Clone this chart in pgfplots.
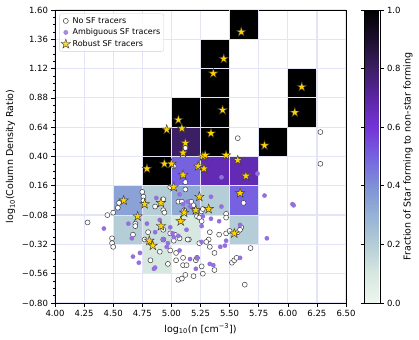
\documentclass[border=0pt]{standalone}
\usepackage{pgfplots}
\pgfplotsset{compat=1.18}
\usepackage{fontspec}
\setmainfont{DejaVu Sans}

\definecolor{gridc}{RGB}{228,228,248}
\definecolor{ambig}{RGB}{147,112,219}
\definecolor{starc}{RGB}{255,210,0}
\definecolor{opene}{RGB}{60,60,60}

% filled five-pointed star, like matplotlib's '*'
\pgfdeclareplotmark{fstar}{%
  \pgfpathmoveto{\pgfpointpolar{90}{\pgfplotmarksize}}%
  \pgfpathlineto{\pgfpointpolar{126}{0.382\pgfplotmarksize}}%
  \pgfpathlineto{\pgfpointpolar{162}{\pgfplotmarksize}}%
  \pgfpathlineto{\pgfpointpolar{198}{0.382\pgfplotmarksize}}%
  \pgfpathlineto{\pgfpointpolar{234}{\pgfplotmarksize}}%
  \pgfpathlineto{\pgfpointpolar{270}{0.382\pgfplotmarksize}}%
  \pgfpathlineto{\pgfpointpolar{306}{\pgfplotmarksize}}%
  \pgfpathlineto{\pgfpointpolar{342}{0.382\pgfplotmarksize}}%
  \pgfpathlineto{\pgfpointpolar{18}{\pgfplotmarksize}}%
  \pgfpathlineto{\pgfpointpolar{54}{0.382\pgfplotmarksize}}%
  \pgfpathclose
  \pgfusepathqfillstroke
}

\begin{document}
\begin{tikzpicture}
\begin{axis}[
    name=main,
    scale only axis,
    width=291pt, height=293pt,
    xmin=4, xmax=6.5,
    ymin=-0.8, ymax=1.6,
    xtick={4,4.25,4.5,4.75,5,5.25,5.5,5.75,6,6.25,6.5},
    xticklabels={4.00,4.25,4.50,4.75,5.00,5.25,5.50,5.75,6.00,6.25,6.50},
    ytick={-0.8,-0.56,-0.32,-0.08,0.16,0.4,0.64,0.88,1.12,1.36,1.6},
    yticklabels={−0.80,−0.56,−0.32,−0.08,0.16,0.40,0.64,0.88,1.12,1.36,1.60},
    minor y tick num=3,
    grid=major,
    major grid style={gridc, line width=1.2pt},
    tick align=outside, tick pos=left,
    major tick length=3.5pt, minor tick length=2pt,
    every tick/.style={black, line width=0.6pt},
    axis line style={line width=0.6pt},
    ticklabel style={font=\fontsize{8.5}{10}\selectfont},
    label style={font=\fontsize{9.5}{11}\selectfont},
    xlabel={log\textsubscript{10}(n [cm\textsuperscript{−3}])},
    ylabel={log\textsubscript{10}(Column Density Ratio)},
    colormap={sf}{rgb255=(238,246,240) rgb255=(214,232,224) rgb255=(180,205,214)
        rgb255=(150,178,213) rgb255=(126,145,214) rgb255=(118,98,224)
        rgb255=(116,52,214) rgb255=(92,38,164) rgb255=(60,30,100)
        rgb255=(28,15,45) rgb255=(0,0,0)},
    point meta min=0, point meta max=1,
    colorbar,
    colorbar style={
        width=16pt,
        at={(parent axis.north east)}, anchor=north west, xshift=9.5pt,
        ytick={0,0.2,0.4,0.6,0.8,1},
        yticklabels={0.0,0.2,0.4,0.6,0.8,1.0},
        yticklabel pos=right,
        tick align=outside, major tick length=3.5pt,
        every tick/.style={black, line width=0.6pt},
        axis line style={line width=0.6pt},
        ticklabel style={font=\fontsize{8.5}{10}\selectfont},
        ylabel={Fraction of Star forming to non-star forming},
        every axis y label/.style={at={(axis description cs:2.75,0.5)},
            anchor=center, rotate=90, font=\fontsize{9.5}{11}\selectfont},
    },
    legend style={at={(0.015,0.988)}, anchor=north west,
        font=\fontsize{8}{9.5}\selectfont, draw=black!18, rounded corners=2pt,
        fill=white, fill opacity=0.8, text opacity=1, inner sep=1.5pt},
    legend cell align=left,
]

% fraction per (n, column density) bin
\addplot[patch, patch type=rectangle, shader=faceted, faceted color=gridc,
    line width=1pt, point meta=explicit, forget plot] table[meta=c] {
x y c
5.50 1.36 1
5.75 1.36 1
5.75 1.60 1
5.50 1.60 1
5.25 1.12 1
5.50 1.12 1
5.50 1.36 1
5.25 1.36 1
5.25 0.88 1
5.50 0.88 1
5.50 1.12 1
5.25 1.12 1
6.00 0.88 1
6.25 0.88 1
6.25 1.12 1
6.00 1.12 1
5.00 0.64 1
5.25 0.64 1
5.25 0.88 1
5.00 0.88 1
5.25 0.64 1
5.50 0.64 1
5.50 0.88 1
5.25 0.88 1
6.00 0.64 1
6.25 0.64 1
6.25 0.88 1
6.00 0.88 1
4.75 0.40 1
5.00 0.40 1
5.00 0.64 1
4.75 0.64 1
5.00 0.40 0.8
5.25 0.40 0.8
5.25 0.64 0.8
5.00 0.64 0.8
5.25 0.40 1
5.50 0.40 1
5.50 0.64 1
5.25 0.64 1
5.75 0.40 1
6.00 0.40 1
6.00 0.64 1
5.75 0.64 1
4.75 0.16 1
5.00 0.16 1
5.00 0.40 1
4.75 0.40 1
5.00 0.16 0.5
5.25 0.16 0.5
5.25 0.40 0.5
5.00 0.40 0.5
5.25 0.16 0.67
5.50 0.16 0.67
5.50 0.40 0.67
5.25 0.40 0.67
5.50 0.16 0.67
5.75 0.16 0.67
5.75 0.40 0.67
5.50 0.40 0.67
4.50 -0.08 0.35
4.75 -0.08 0.35
4.75 0.16 0.35
4.50 0.16 0.35
4.75 -0.08 0.2
5.00 -0.08 0.2
5.00 0.16 0.2
4.75 0.16 0.2
5.00 -0.08 0.32
5.25 -0.08 0.32
5.25 0.16 0.32
5.00 0.16 0.32
5.25 -0.08 0.2
5.50 -0.08 0.2
5.50 0.16 0.2
5.25 0.16 0.2
5.50 -0.08 0.5
5.75 -0.08 0.5
5.75 0.16 0.5
5.50 0.16 0.5
4.50 -0.32 0.2
4.75 -0.32 0.2
4.75 -0.08 0.2
4.50 -0.08 0.2
4.75 -0.32 0.14
5.00 -0.32 0.14
5.00 -0.08 0.14
4.75 -0.08 0.14
5.00 -0.32 0.1
5.25 -0.32 0.1
5.25 -0.08 0.1
5.00 -0.08 0.1
5.50 -0.32 0.2
5.75 -0.32 0.2
5.75 -0.08 0.2
5.50 -0.08 0.2
4.75 -0.56 0.1
5.00 -0.56 0.1
5.00 -0.32 0.1
4.75 -0.32 0.1
};

% No SF tracers
\addplot[only marks, mark=*, mark size=2.5pt,
    mark options={fill=white, draw=opene, line width=0.5pt}] coordinates {
(6.28,0.60) (6.28,0.34) (5.57,0.55) (5.12,0.47) (5.02,0.32) (5.12,0.19) (5.62,0.02)
(4.28,-0.14) (4.45,-0.08) (4.50,-0.06) (4.54,-0.02) (4.55,0.02)
(4.49,-0.27) (4.49,-0.31) (4.50,-0.34)
(4.69,-0.15) (4.69,-0.17) (4.67,-0.24)
(4.75,0.11) (4.76,0.07) (4.76,0.04)
(4.99,0.15) (5.12,0.13) (4.93,0.05) (4.86,-0.01) (4.93,-0.04) (4.94,-0.06)
(5.06,0.03) (5.09,0.03) (5.17,0.03) (5.19,0.00) (5.11,-0.04) (5.20,-0.04)
(4.77,-0.28) (4.80,-0.22) (4.93,-0.20) (4.99,-0.23) (5.03,-0.24)
(4.93,-0.28) (5.02,-0.29) (5.07,-0.27) (5.15,-0.28) (5.14,-0.28)
(4.90,-0.38) (4.99,-0.37) (5.04,-0.39) (4.82,-0.45) (4.97,-0.48)
(5.04,-0.45) (5.10,-0.43) (5.10,-0.49) (5.13,-0.49) (5.21,-0.45) (5.22,-0.43)
(5.06,-0.61) (5.09,-0.60) (5.12,-0.57) (5.19,-0.58) (5.27,-0.56)
(5.47,-0.07) (5.47,-0.10) (5.26,-0.05) (5.27,-0.03) (5.22,-0.09) (5.24,-0.10) (5.26,-0.13)
(5.33,-0.22) (5.41,-0.24) (5.32,-0.28) (5.30,-0.30) (5.24,-0.31)
(5.33,-0.34) (5.37,-0.39) (5.26,-0.50) (5.37,-0.53) (5.47,-0.23)
(5.50,-0.21) (5.60,-0.18) (5.57,-0.22) (5.59,-0.20)
(5.52,-0.47) (5.54,-0.45) (5.56,-0.43) (5.68,-0.35) (5.63,-0.65)
};
\addlegendentry{No SF tracers}

% Ambiguous SF tracers
\addplot[only marks, mark=*, mark size=2.1pt,
    mark options={fill=ambig, draw=ambig}] coordinates {
(5.43,0.23) (5.74,0.26) (5.80,0.08) (6.04,0.01) (6.05,0.00) (5.82,-0.27) (5.59,-0.43)
(5.34,0.07) (5.43,-0.01) (5.27,-0.09) (5.34,-0.11) (5.41,-0.13) (5.26,-0.17) (5.59,-0.16)
(5.47,-0.29) (5.42,-0.34) (5.46,-0.33) (5.26,-0.30) (5.33,-0.48) (5.36,-0.49)
(5.22,-0.43) (5.21,-0.52)
(5.07,0.09) (4.87,0.06) (5.14,0.03) (5.10,0.01) (5.16,-0.01)
(4.79,-0.15) (4.90,-0.12) (4.86,-0.22) (4.66,-0.27) (4.99,-0.18) (5.02,-0.26)
(4.93,-0.28) (4.97,-0.31) (5.01,-0.23) (5.06,-0.25) (5.13,-0.20)
(4.96,-0.34) (4.73,-0.39) (4.67,-0.42) (4.72,-0.47)
(4.86,-0.51) (4.85,-0.52) (5.07,-0.37) (5.16,-0.44)
(4.42,-0.19) (4.63,-0.15)
};
\addlegendentry{Ambiguous SF tracers}

% Robust SF tracers
\addplot[only marks, mark=fstar, mark size=5pt,
    mark options={fill=starc, draw=black!80, line width=0.4pt}] coordinates {
(5.60,1.42) (5.45,1.20) (5.36,1.08) (6.12,0.97) (5.44,0.78) (6.06,0.76)
(5.06,0.70) (4.96,0.62) (5.09,0.63) (5.34,0.59) (5.80,0.49) (5.12,0.51)
(5.10,0.43) (5.27,0.40) (5.29,0.41) (5.47,0.41) (5.57,0.37)
(4.79,0.30) (4.94,0.34) (5.00,0.34) (5.23,0.32) (5.28,0.30) (5.10,0.25)
(5.64,0.24) (5.02,0.15) (5.59,0.10)
(4.59,0.04) (4.77,0.01) (4.91,0.02) (5.24,0.07)
(4.71,-0.09) (5.11,-0.06) (5.21,-0.04) (5.32,-0.03) (5.08,-0.13)
(4.91,-0.17) (4.81,-0.29) (4.84,-0.33) (5.54,-0.23)
};
\addlegendentry{Robust SF tracers}

\end{axis}
% frame the page like the reference: margins around the main axis box
\pgfresetboundingbox
\path[use as bounding box] ([xshift=-55pt,yshift=-36pt]main.south west)
    rectangle ([xshift=73pt,yshift=10pt]main.north east);
\end{tikzpicture}
\end{document}
